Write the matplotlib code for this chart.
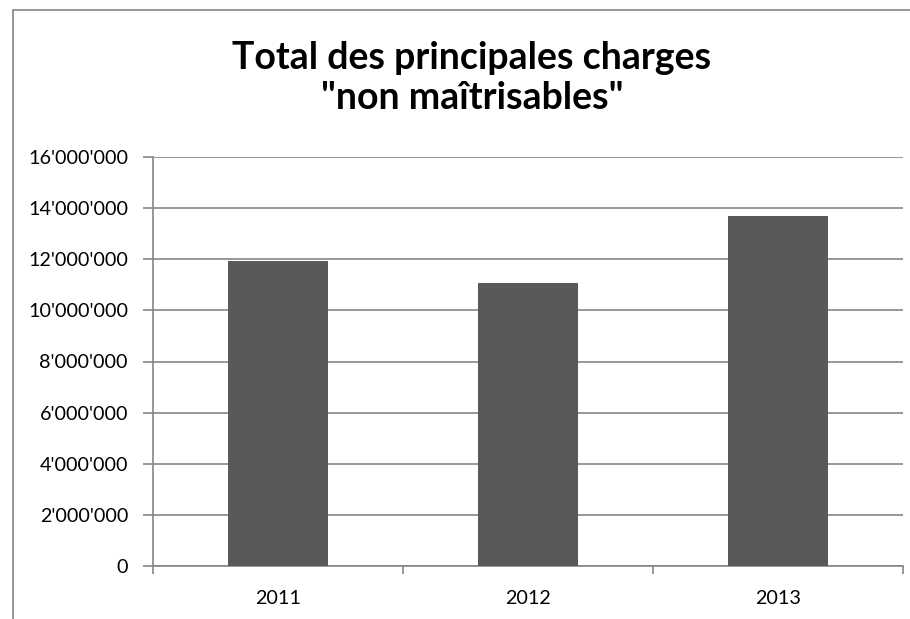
import matplotlib
matplotlib.use("Agg")
import matplotlib.pyplot as plt
from matplotlib.patches import Rectangle
from matplotlib.ticker import FuncFormatter, MultipleLocator

years = ["2011", "2012", "2013"]
values = [11930000, 11060000, 13690000]
title = 'Total des principales charges\n"non maîtrisables"'

W, H = 910, 619
fig = plt.figure(figsize=(W / 100, H / 100), dpi=100)
fig.patch.set_facecolor("white")

grey = "#868686"
font = ["Lato", "DejaVu Sans"]

# outer chart border (extends beyond the crop on the right and bottom)
fig.patches.append(Rectangle((13 / W, -0.1), 2.0, 1 - 10 / H + 0.1,
                             transform=fig.transFigure, fill=False,
                             edgecolor=grey, linewidth=1.2))

left, right, top, bottom = 153, 903, 157, 566
ax = fig.add_axes([left / W, 1 - bottom / H, (right - left) / W, (bottom - top) / H])

x = range(len(years))
ax.bar(x, values, width=0.4, color="#595959", zorder=3)
ax.set_xlim(-0.5, len(years) - 0.5)
ax.set_ylim(0, 16000000)
ax.yaxis.set_major_locator(MultipleLocator(2000000))
ax.yaxis.set_major_formatter(FuncFormatter(lambda v, p: "{:,.0f}".format(v).replace(",", "'")))
ax.grid(axis="y", color=grey, linewidth=1.2, zorder=0)

for s in ["top", "right"]:
    ax.spines[s].set_visible(False)
for s in ["left", "bottom"]:
    ax.spines[s].set_color(grey)
    ax.spines[s].set_linewidth(1.2)

ax.set_xticks([i - 0.5 for i in range(len(years) + 1)], minor=False)
ax.set_xticklabels([])
ax.set_xticks(list(x), minor=True)
ax.set_xticklabels(years, minor=True)
ax.tick_params(axis="x", which="major", length=6, color=grey, width=1.2, direction="out")
ax.tick_params(axis="x", which="minor", length=0, pad=17, labelsize=14.2)
ax.tick_params(axis="y", length=7, color=grey, width=1.2, pad=11, labelsize=14.2)
for lab in ax.get_xticklabels(minor=True) + ax.get_yticklabels():
    lab.set_fontfamily(font)

fig.text(472 / W, 1 - 78 / H, title, ha="center", va="center",
         fontsize=27, fontweight="bold", family=font, linespacing=1.22)

fig.savefig("out.png", dpi=100, facecolor="white")
